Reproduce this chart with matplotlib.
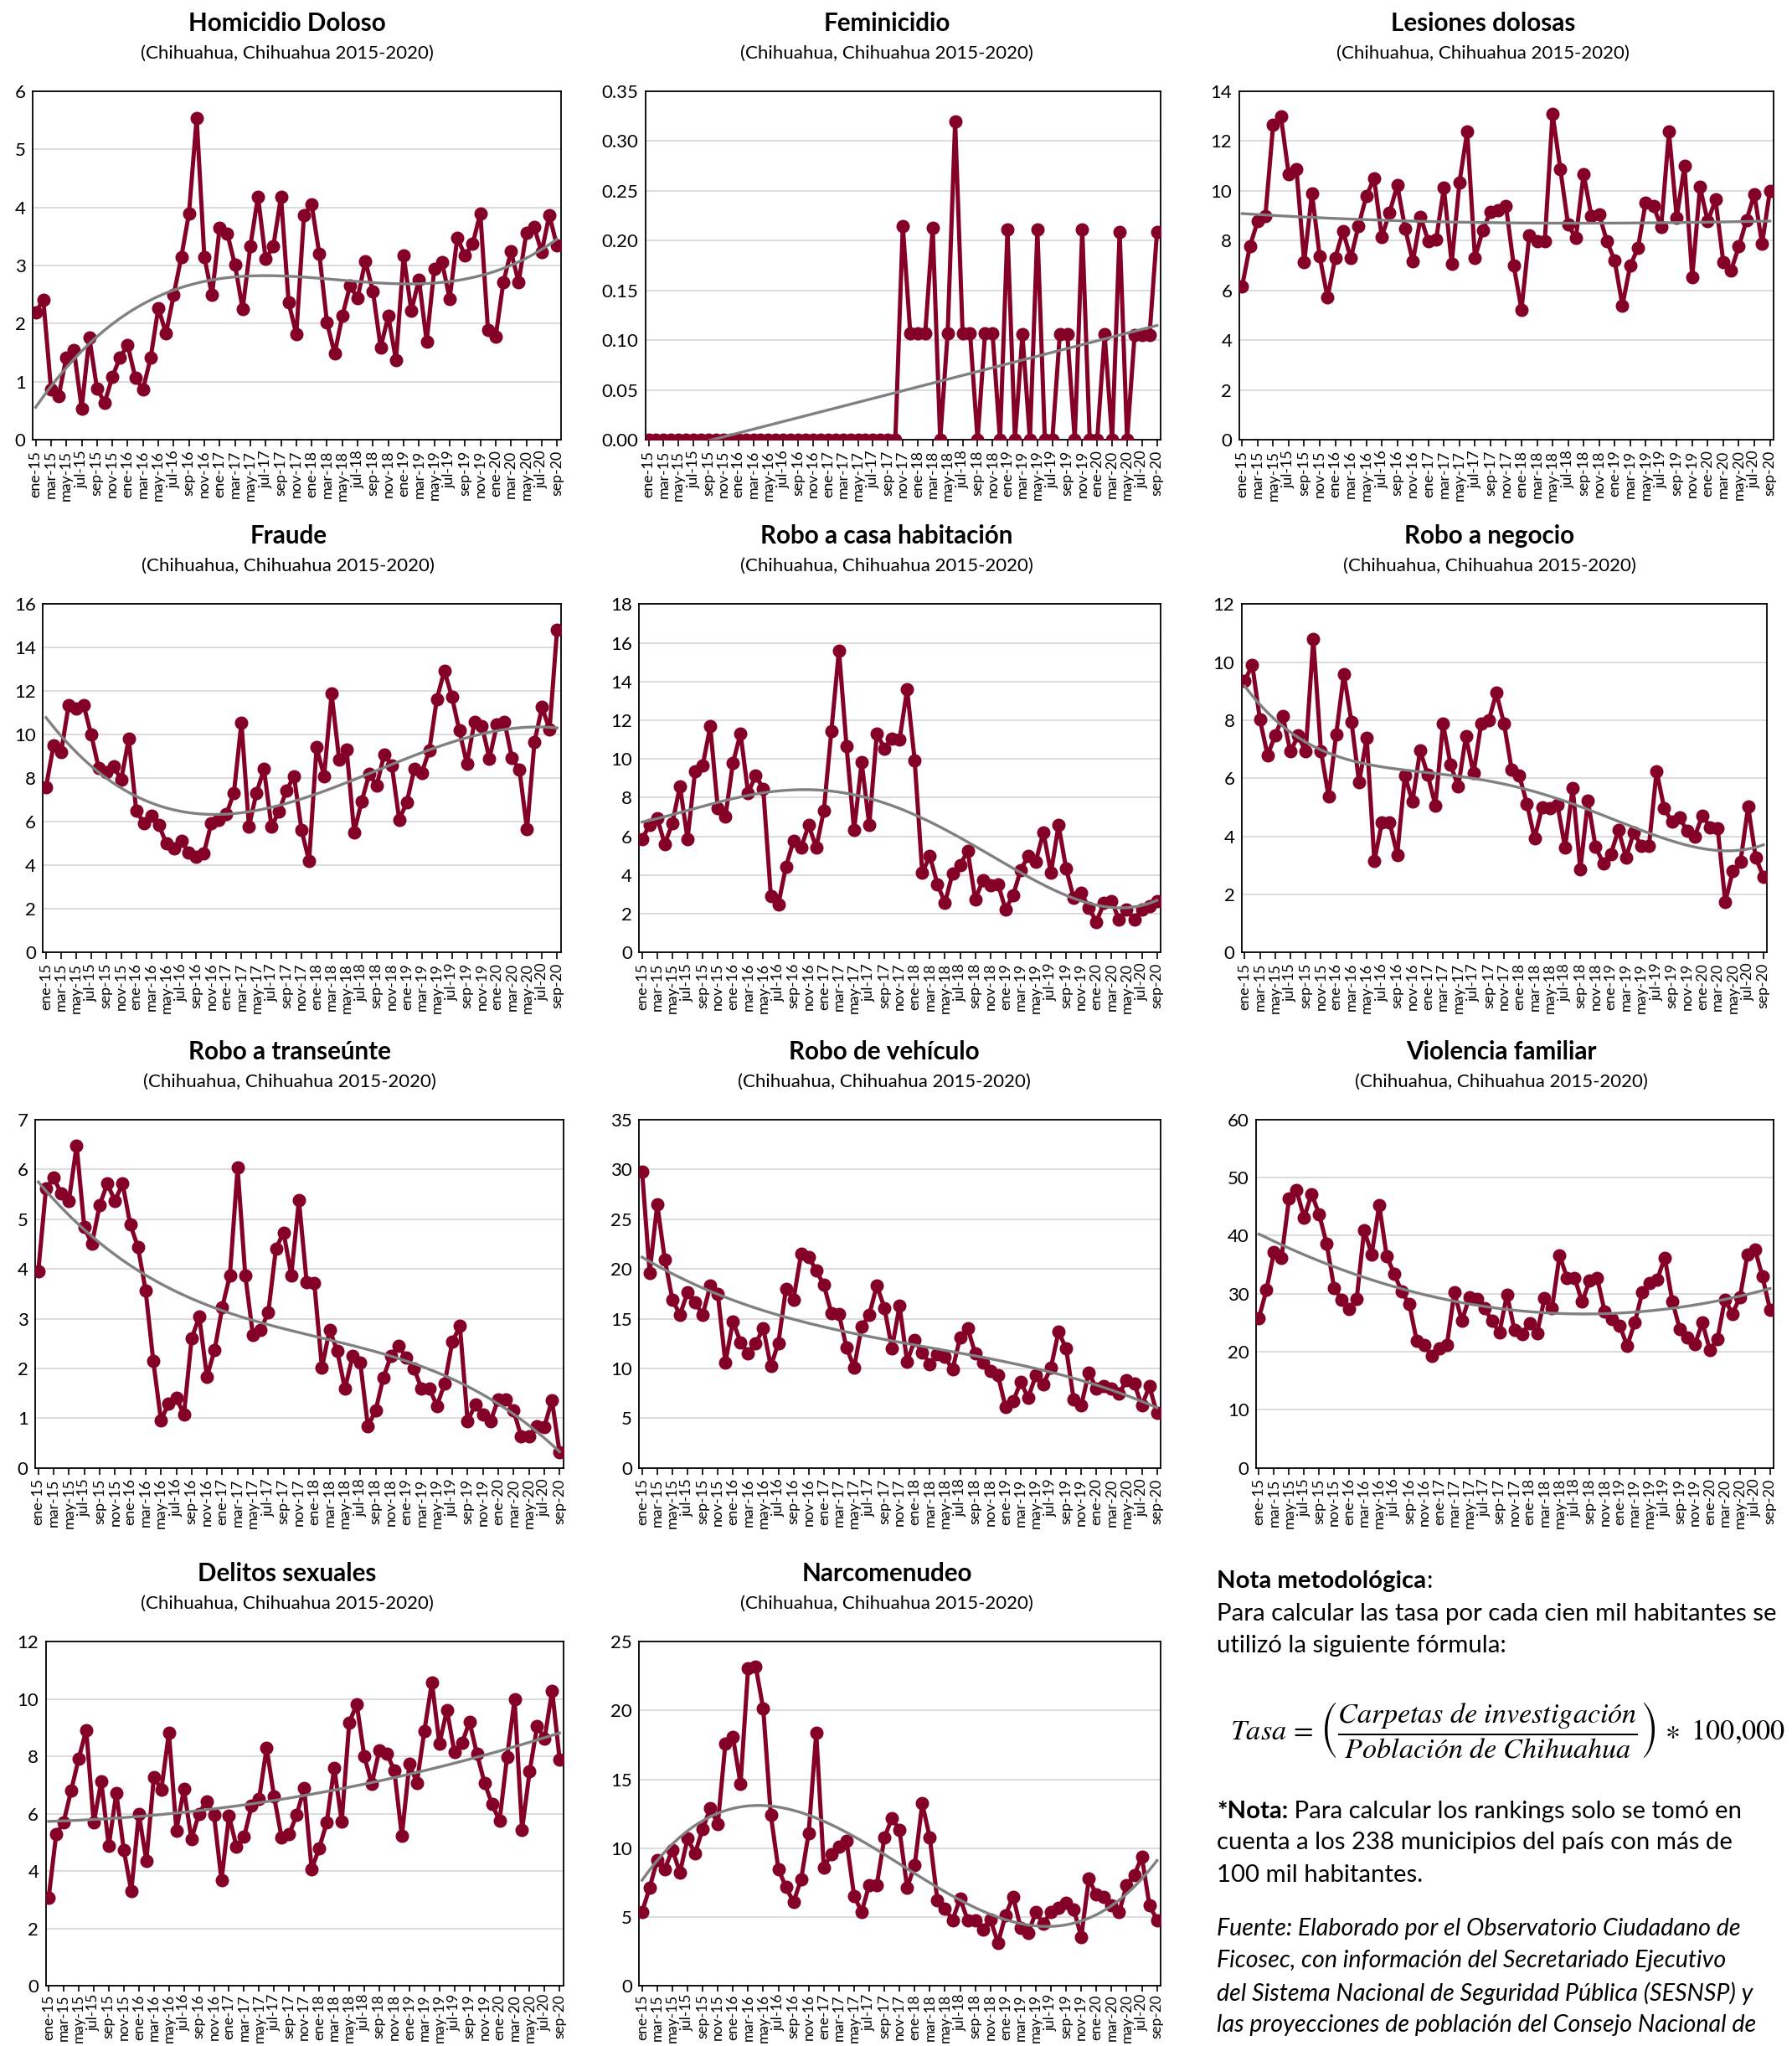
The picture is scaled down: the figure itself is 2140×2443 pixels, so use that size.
import numpy as np
import matplotlib.pyplot as plt
from matplotlib.ticker import FormatStrFormatter

plt.rcParams['font.family'] = ['Lato', 'DejaVu Sans']
plt.rcParams['mathtext.fontset'] = 'stix'

# categorias (ene-15 ... sep-20)
meses = ['ene', 'feb', 'mar', 'abr', 'may', 'jun', 'jul', 'ago', 'sep', 'oct', 'nov', 'dic']
anios = ['15', '16', '17', '18', '19', '20']
categorias = [m + '-' + a for a in anios for m in meses][:69]

# tasas por cada cien mil habitantes
homicidio = [2.19, 2.41, 0.87, 0.75, 1.42, 1.54, 0.54, 1.76, 0.88, 0.64, 1.08, 1.42, 1.63, 1.07,
             0.87, 1.41, 2.27, 1.83, 2.49, 3.15, 3.90, 5.54, 3.15, 2.49, 3.65, 3.55, 3.01, 2.25,
             3.33, 4.19, 3.11, 3.33, 4.19, 2.36, 1.82, 3.87, 4.05, 3.20, 2.02, 1.48, 2.13, 2.65,
             2.44, 3.08, 2.55, 1.59, 2.13, 1.37, 3.17, 2.22, 2.76, 1.69, 2.94, 3.06, 2.43, 3.48,
             3.17, 3.37, 3.90, 1.89, 1.77, 2.71, 3.24, 2.71, 3.56, 3.67, 3.23, 3.87, 3.34]
feminicidio = [0] * 34 + [0.215, 0.107, 0.107, 0.107, 0.213, 0, 0.107, 0.32, 0.107, 0.107, 0,
                          0.107, 0.107, 0, 0.211, 0, 0.106, 0, 0.211, 0, 0, 0.106, 0.106, 0,
                          0.211, 0, 0, 0.106, 0, 0.209, 0, 0.105, 0.105, 0.105, 0.209]
lesiones = [6.16, 7.78, 8.77, 9.00, 12.65, 12.99, 10.68, 10.88, 7.14, 9.90, 7.37, 5.71, 7.31,
            8.38, 7.29, 8.60, 9.78, 10.51, 8.15, 9.13, 10.23, 8.49, 7.16, 8.94, 7.98, 8.04,
            10.12, 7.08, 10.32, 12.39, 7.31, 8.41, 9.16, 9.22, 9.39, 6.99, 5.23, 8.21, 7.98,
            7.98, 13.10, 10.88, 8.64, 8.10, 10.68, 9.00, 9.05, 7.98, 7.20, 5.40, 6.99, 7.70,
            9.54, 9.39, 8.55, 12.37, 8.92, 11.00, 6.54, 10.15, 8.77, 9.65, 7.14, 6.80, 7.76,
            8.83, 9.87, 7.87, 9.99]
fraude = [7.61, 9.51, 9.19, 11.35, 11.22, 11.37, 10.02, 8.48, 8.29, 8.55, 7.93, 9.81, 6.52,
          5.95, 6.30, 5.87, 5.01, 4.78, 5.14, 4.59, 4.41, 4.56, 5.95, 6.08, 6.36, 7.33, 10.56,
          5.78, 7.33, 8.42, 5.78, 6.49, 7.45, 8.10, 5.62, 4.20, 9.42, 8.10, 11.89, 8.87, 9.32,
          5.53, 6.94, 8.19, 7.67, 9.10, 8.61, 6.10, 6.90, 8.42, 8.26, 9.29, 11.63, 12.94,
          11.76, 10.19, 8.67, 10.58, 10.41, 8.91, 10.47, 10.60, 8.93, 8.39, 5.65, 9.68, 11.27,
          10.24, 14.82]
robo_casa = [5.86, 6.61, 6.94, 5.60, 6.69, 8.60, 5.86, 9.37, 9.66, 11.68, 7.45, 7.01, 9.80,
             11.32, 8.24, 9.15, 8.46, 2.93, 2.50, 4.44, 5.78, 5.42, 6.58, 5.42, 7.33, 11.45,
             15.61, 10.66, 6.32, 9.83, 6.58, 11.32, 10.55, 11.03, 10.99, 13.59, 9.93, 4.12,
             4.99, 3.54, 2.56, 4.09, 4.53, 5.25, 2.75, 3.72, 3.47, 3.54, 2.24, 2.96, 4.26, 4.99,
             4.70, 6.22, 4.12, 6.58, 4.34, 2.82, 3.08, 2.31, 1.59, 2.56, 2.67, 1.69, 2.24, 1.69,
             2.24, 2.41, 2.67]
robo_negocio = [9.35, 9.91, 8.02, 6.80, 7.47, 8.14, 6.92, 7.47, 6.92, 10.80, 6.94, 5.38, 7.52,
                9.59, 7.95, 5.86, 7.40, 3.16, 4.48, 4.48, 3.37, 6.09, 5.20, 6.96, 6.12, 5.06,
                7.88, 6.46, 5.71, 7.44, 6.17, 7.88, 8.00, 8.94, 7.88, 6.31, 6.09, 5.13, 3.93,
                5.01, 4.96, 5.09, 3.61, 5.67, 2.87, 5.22, 3.64, 3.08, 3.39, 4.22, 3.28, 4.13,
                3.68, 3.68, 6.25, 4.96, 4.51, 4.65, 4.19, 4.00, 4.72, 4.32, 4.29, 1.75, 2.81,
                3.13, 5.03, 3.26, 2.62]
robo_transeunte = [3.95, 5.61, 5.83, 5.51, 5.37, 6.48, 4.84, 4.50, 5.28, 5.71, 5.37, 5.71, 4.89,
                   4.44, 3.57, 2.15, 0.96, 1.29, 1.41, 1.07, 2.60, 3.04, 1.83, 2.37, 3.23, 3.87,
                   6.03, 3.87, 2.67, 2.78, 3.12, 4.41, 4.73, 3.87, 5.38, 3.74, 3.72, 2.01, 2.78,
                   2.35, 1.59, 2.25, 2.11, 0.84, 1.15, 1.81, 2.25, 2.45, 2.22, 2.00, 1.59, 1.60,
                   1.25, 1.69, 2.53, 2.85, 0.94, 1.27, 1.07, 0.94, 1.38, 1.38, 1.15, 0.63, 0.63,
                   0.84, 0.82, 1.36, 0.31]
robo_vehiculo = [29.78, 19.62, 26.48, 20.94, 16.93, 15.38, 17.64, 16.65, 15.38, 18.29, 17.50,
                 10.58, 14.73, 12.64, 11.52, 12.48, 14.06, 10.22, 12.56, 17.98, 16.93, 21.51,
                 21.22, 19.81, 18.40, 15.58, 15.44, 12.08, 10.10, 14.17, 15.38, 18.35, 16.09,
                 12.00, 16.29, 10.67, 12.84, 11.63, 10.44, 11.43, 11.15, 9.88, 13.12, 14.03,
                 11.52, 10.58, 9.74, 9.31, 6.12, 6.69, 8.61, 7.06, 9.31, 8.41, 10.10, 13.69,
                 12.00, 6.91, 6.27, 9.60, 7.96, 8.24, 7.96, 7.48, 8.81, 8.47, 6.27, 8.19, 5.50]
violencia_familiar = [25.85, 30.68, 37.20, 36.23, 46.38, 47.83, 43.09, 47.20, 43.72, 38.65,
                      31.01, 28.99, 27.44, 29.08, 40.97, 36.81, 45.27, 36.47, 33.43, 30.34,
                      28.26, 21.84, 21.16, 19.23, 20.53, 21.11, 30.19, 25.36, 29.37, 29.08,
                      27.54, 25.36, 23.29, 29.86, 23.77, 23.09, 24.88, 23.19, 29.23, 27.54,
                      36.62, 32.75, 32.75, 28.60, 32.27, 32.75, 26.96, 25.70, 24.54, 21.01,
                      25.02, 30.19, 31.79, 32.46, 36.23, 28.74, 23.91, 22.46, 21.26, 25.02,
                      20.29, 22.13, 28.99, 26.57, 29.37, 36.71, 37.68, 32.95, 27.29]
delitos_sexuales = [3.07, 5.28, 5.71, 6.82, 7.92, 8.92, 5.69, 7.13, 4.87, 6.73, 4.74, 3.30,
                    6.00, 4.36, 7.28, 6.84, 8.82, 5.42, 6.86, 5.11, 6.00, 6.44, 5.96, 3.68,
                    5.93, 4.84, 5.19, 6.27, 6.51, 8.29, 6.60, 5.16, 5.28, 5.96, 6.89, 4.07,
                    4.80, 5.69, 7.60, 5.73, 9.18, 9.81, 8.00, 7.04, 8.21, 8.10, 7.50, 5.22,
                    7.73, 7.08, 8.89, 10.58, 8.43, 9.62, 8.14, 8.46, 9.20, 8.08, 7.08, 6.34,
                    5.75, 7.98, 9.98, 5.45, 7.47, 9.04, 8.63, 10.29, 7.88]
narcomenudeo = [5.38, 7.14, 9.15, 8.49, 9.89, 8.23, 10.69, 9.63, 11.40, 12.90, 11.76, 17.58,
                18.06, 14.65, 23.03, 23.19, 20.12, 12.40, 8.49, 7.18, 6.08, 7.74, 11.10, 18.38,
                8.59, 9.59, 10.09, 10.55, 6.54, 5.38, 7.34, 7.34, 10.75, 12.20, 11.30, 7.14,
                8.75, 13.24, 10.75, 6.22, 5.62, 4.78, 6.34, 4.78, 4.78, 4.11, 4.82, 3.13, 5.14,
                6.48, 4.21, 3.87, 5.34, 4.53, 5.38, 5.68, 6.02, 5.58, 3.57, 7.78, 6.62, 6.48,
                5.88, 5.34, 7.34, 8.03, 9.39, 5.88, 4.78]

subtitulo = '(Chihuahua, Chihuahua 2015-2020)'
vino = '#840026'

# titulo, datos, ymax, paso, grado de tendencia, formato,
# posicion de ejes en px de referencia (izq, der, arriba, abajo), centro del titulo
paneles = [
    ('Homicidio Doloso', homicidio, 6, 1, 3, '%d', (25, 430, 70, 337), 220),
    ('Feminicidio', feminicidio, 0.35, 0.05, 1, '%.2f', (495, 890, 70, 337), 680),
    ('Lesiones dolosas', lesiones, 14, 2, 3, '%d', (950, 1360, 70, 337), 1137),
    ('Fraude', fraude, 16, 2, 3, '%d', (33, 430, 463, 730), 221),
    ('Robo a casa habitación', robo_casa, 18, 2, 4, '%d', (490, 890, 463, 730), 680),
    ('Robo a negocio', robo_negocio, 12, 2, 4, '%d', (952, 1355, 463, 730), 1142),
    ('Robo a transeúnte', robo_transeunte, 7, 1, 3, '%d', (27, 432, 858, 1125), 222),
    ('Robo de vehículo', robo_vehiculo, 35, 5, 3, '%d', (490, 890, 858, 1125), 678),
    ('Violencia familiar', violencia_familiar, 60, 10, 3, '%d', (963, 1360, 858, 1125), 1151),
    ('Delitos sexuales', delitos_sexuales, 12, 2, 2, '%d', (35, 432, 1258, 1522), 220),
    ('Narcomenudeo', narcomenudeo, 25, 5, 3, '%d', (490, 890, 1258, 1522), 680),
]

W, H = 1374.0, 1568.0
fig = plt.figure(figsize=(21.4, 24.43), dpi=100)

x = np.arange(len(categorias))
ejes = []
for titulo, datos, ymax, paso, grado, fmt, (l, r, t, b), tx in paneles:
    ax = fig.add_axes([l / W, 1 - b / H, (r - l) / W, (b - t) / H])
    ejes.append(ax)
    ax.plot(x, datos, color=vino, linewidth=3.6, marker='o', markersize=10.5,
            markerfacecolor=vino, markeredgecolor=vino, zorder=3)
    coef = np.polyfit(x, datos, grado)
    xt = np.linspace(0, len(x) - 1, 300)
    ax.plot(xt, np.polyval(coef, xt), color='#808080', linewidth=2.4, zorder=4)

    ax.set_xlim(-0.4, len(x) - 0.5)
    ax.set_ylim(0, ymax)
    ax.set_yticks(np.arange(0, ymax + paso / 2, paso))
    ax.yaxis.set_major_formatter(FormatStrFormatter(fmt))
    ax.set_xticks(x[::2])
    ax.set_xticklabels(categorias[::2], rotation=90, fontsize=12.8)
    ax.tick_params(axis='y', length=0, labelsize=16, pad=6)
    ax.tick_params(axis='x', length=6, width=1.2, pad=3)
    ax.grid(axis='y', color='#D9D9D9', linewidth=1.3)
    ax.set_axisbelow(True)
    for s in ax.spines.values():
        s.set_color('black')
        s.set_linewidth(1.3)

    fila_y = t - 52
    fig.text(tx / W, 1 - fila_y / H, titulo, ha='center', va='center',
             fontsize=21.3, fontweight='bold')
    fig.text(tx / W, 1 - (fila_y + 23) / H, subtitulo, ha='center', va='center', fontsize=16)

# nota metodologica
nx = 933 / W
tam = 21.2
ax0 = fig.axes[0]
textos = []
nota1 = fig.text(nx, 1 - 1212 / H, 'Nota metodológica', fontsize=tam, fontweight='bold', va='center')
ax0.annotate(':', xy=(1, 0), xycoords=nota1, fontsize=tam, va='bottom', annotation_clip=False)
textos.append(fig.text(nx, 1 - 1237 / H, 'Para calcular las tasa por cada cien mil habitantes se',
                       fontsize=tam, va='center'))
textos.append(fig.text(nx, 1 - 1261 / H, 'utilizó la siguiente fórmula:', fontsize=tam, va='center'))

textos.append(fig.text(943 / W, 1 - 1326 / H,
                       r'$Tasa\,=\,\left(\dfrac{Carpetas\ de\ investigación}'
                       r'{Población\ de\ Chihuahua}\right)\,\ast\ 100{,}000$',
                       fontsize=25, va='center'))

nota2 = fig.text(nx, 1 - 1388 / H, '*Nota:', fontsize=tam, fontweight='bold', va='center')
ax0.annotate(' Para calcular los rankings solo se tomó en', xy=(1, 0), xycoords=nota2,
             fontsize=tam, va='bottom', annotation_clip=False)
textos.append(fig.text(nx, 1 - 1412 / H, 'cuenta a los 238 municipios del país con más de',
                       fontsize=tam, va='center'))
textos.append(fig.text(nx, 1 - 1437 / H, '100 mil habitantes.', fontsize=tam, va='center'))

fuente = ['Fuente: Elaborado por el Observatorio Ciudadano de',
          'Ficosec, con información del Secretariado Ejecutivo',
          'del Sistema Nacional de Seguridad Pública (SESNSP) y',
          'las proyecciones de población del Consejo Nacional de']
for i, linea in enumerate(fuente):
    textos.append(fig.text(nx, 1 - (1478 + i * 24.7) / H, linea, fontsize=20.6,
                           style='italic', va='center'))

# que ningun texto se salga de los bordes
fig.canvas.draw()
rend = fig.canvas.get_renderer()
ancho = fig.bbox.width
for tx_ in textos:
    while tx_.get_window_extent(rend).x1 > ancho - 3:
        tx_.set_fontsize(tx_.get_fontsize() - 0.2)

for ax in ejes[-2:]:
    ax.tick_params(axis='x', length=5, pad=2)
    etiquetas = ax.get_xticklabels()
    tam_x = 12.8
    while min(e.get_window_extent(rend).y0 for e in etiquetas) < 3 and tam_x > 9:
        tam_x -= 0.2
        for e in etiquetas:
            e.set_fontsize(tam_x)
        fig.canvas.draw()

fig.savefig('out.png', dpi=100)
